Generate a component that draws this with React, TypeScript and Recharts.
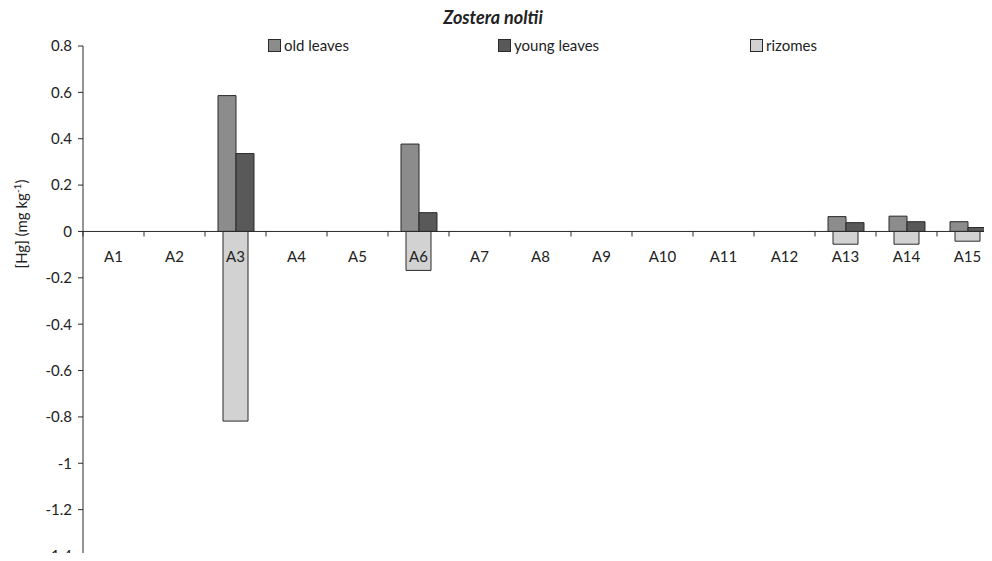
import React from "react";
import {
  Bar,
  BarChart,
  ReferenceLine,
  XAxis,
  YAxis,
} from "recharts";

const categories = ["A1", "A2", "A3", "A4", "A5", "A6", "A7", "A8", "A9", "A10", "A11", "A12", "A13", "A14", "A15"];
const oldLeaves = [null, null, 0.586, null, null, 0.377, null, null, null, null, null, null, 0.064, 0.066, 0.042];
const youngLeaves = [null, null, 0.336, null, null, 0.081, null, null, null, null, null, null, 0.038, 0.042, 0.017];
const rizomes = [null, null, -0.818, null, null, -0.168, null, null, null, null, null, null, -0.055, -0.055, -0.042];
const yTicks = [0.8, 0.6, 0.4, 0.2, 0, -0.2, -0.4, -0.6, -0.8, -1, -1.2, -1.4];

const seriesInfo = [
  { key: "old", label: "old leaves", color: "#8c8c8c" },
  { key: "young", label: "young leaves", color: "#595959" },
  { key: "rizomes", label: "rizomes", color: "#d2d2d2" },
];

const data = categories.map((name, i) => ({
  name,
  old: oldLeaves[i],
  young: youngLeaves[i],
  rizomes: rizomes[i],
}));

const W = 1000;
const H = 561;
const X_H = 1;
const MARGIN = { top: 46, right: 2, bottom: 4, left: 0 };
const Y_W = 83;
const PLOT_W = W - MARGIN.left - MARGIN.right - Y_W;
const PLOT_H = H - MARGIN.top - MARGIN.bottom - X_H;
const Y_MAX = 0.8;
const Y_MIN = -1.4;
const ZERO_Y = MARGIN.top + (PLOT_H * Y_MAX) / (Y_MAX - Y_MIN);
const FONT = "Lato, 'Open Sans', sans-serif";
const INK = "#2a2a2a";

function XTick(props: any) {
  const { x, payload } = props;
  const band = PLOT_W / categories.length;
  return (
    <g>
      <line x1={x - band / 2} x2={x - band / 2} y1={ZERO_Y} y2={ZERO_Y + 5} stroke={INK} />
      <text x={x} y={ZERO_Y + 31} textAnchor="middle" fontSize={15} fill="#222" fontFamily={FONT}>
        {payload.value}
      </text>
    </g>
  );
}

function YLabel() {
  const cx = 27;
  const cy = 224;
  return (
    <text
      x={cx}
      y={cy}
      transform={`rotate(-90 ${cx} ${cy})`}
      textAnchor="middle"
      fontSize={15}
      fill="#222"
      fontFamily={FONT}
    >
      [Hg] (mg kg
      <tspan fontSize={10} dy={-6}>-1</tspan>
      <tspan dy={6}>)</tspan>
    </text>
  );
}

function LegendBox() {
  const widths = [230, 252, 120];
  return (
    <div
      style={{
        position: "absolute",
        top: 36,
        left: 268,
        display: "flex",
        fontFamily: FONT,
        fontSize: 15,
        color: "#222",
      }}
    >
      {seriesInfo.map((s, i) => (
        <div key={s.key} style={{ width: widths[i], display: "flex", alignItems: "center" }}>
          <span
            style={{
              display: "inline-block",
              width: 11,
              height: 11,
              background: s.color,
              border: `1px solid ${INK}`,
              marginRight: 3,
            }}
          />
          <span>{s.label}</span>
        </div>
      ))}
    </div>
  );
}

export default function App() {
  return (
    <div
      style={{
        position: "relative",
        margin: -8,
        width: 992,
        height: 561,
        overflow: "hidden",
        background: "#fff",
      }}
    >
      <div
        style={{
          position: "absolute",
          top: 6,
          left: 0,
          width: 986,
          textAlign: "center",
          fontFamily: FONT,
          fontWeight: 700,
          fontStyle: "italic",
          fontSize: 18,
          color: "#222",
        }}
      >
        Zostera noltii
      </div>
      <BarChart width={W} height={H} data={data} margin={MARGIN} barGap={0}>
        <XAxis
          dataKey="name"
          height={X_H}
          axisLine={false}
          tickLine={false}
          interval={0}
          tick={<XTick />}
        />
        <XAxis xAxisId="r" dataKey="name" hide />
        <YAxis
          domain={[Y_MIN, Y_MAX]}
          ticks={yTicks}
          interval={0}
          width={Y_W}
          tickSize={5}
          tickMargin={6}
          axisLine={{ stroke: INK }}
          tickLine={{ stroke: INK }}
          tick={{ fontSize: 15, fill: "#222", fontFamily: FONT }}
          label={<YLabel />}
        />
        <ReferenceLine y={0} stroke={INK} />
        <Bar dataKey="old" name="old leaves" fill={seriesInfo[0].color} stroke={INK} barSize={18} isAnimationActive={false} />
        <Bar dataKey="young" name="young leaves" fill={seriesInfo[1].color} stroke={INK} barSize={18} isAnimationActive={false} />
        <Bar xAxisId="r" dataKey="rizomes" name="rizomes" fill={seriesInfo[2].color} stroke={INK} barSize={25} isAnimationActive={false} />
      </BarChart>
      <LegendBox />
    </div>
  );
}
